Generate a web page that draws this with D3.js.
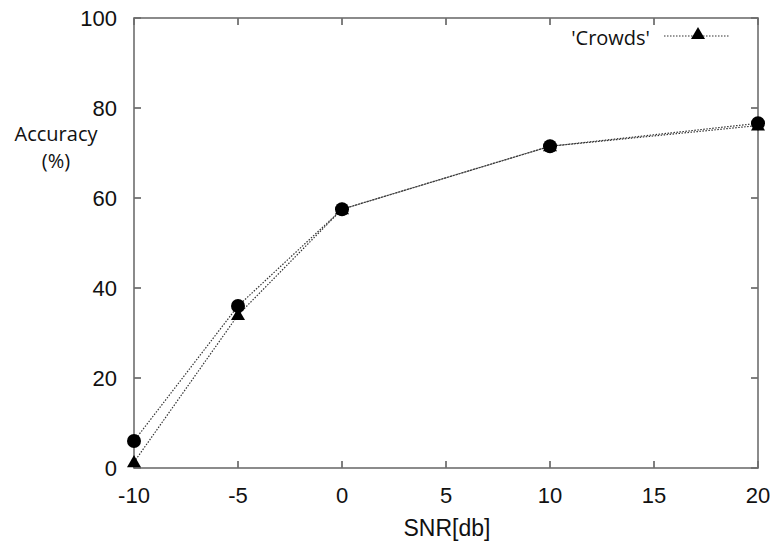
<!DOCTYPE html>
<html>
<head>
<meta charset="utf-8">
<script src="https://cdn.jsdelivr.net/npm/d3@7"></script>
<style>
  body { margin: 0; background: #fff; }
  text { fill: #111; }
</style>
</head>
<body>
<svg id="chart" width="777" height="544"></svg>
<script>
(function() {

    var snr = [-10, -5, 0, 10, 20],
        circleAcc = [6, 36, 57.5, 71.5, 76.6],
        crowdsAcc = [1.3, 34, 57.5, 71.5, 76.1],
        xTicks = [-10, -5, 0, 5, 10, 15, 20],
        yTicks = [0, 20, 40, 60, 80, 100];

    var left = 134, right = 758, top = 18, bottom = 468,
        tickLen = 7;

    var svg = d3.select('#chart');

    var x = d3.scaleLinear().domain([-10, 20]).range([left, right]);
    var y = d3.scaleLinear().domain([0, 100]).range([bottom, top]);

    // ticks on all four sides, pointing inward
    var g = svg.append('g');
    xTicks.forEach(function(t) {
        g.append('line').attr('x1', x(t)).attr('x2', x(t))
            .attr('y1', bottom).attr('y2', bottom - tickLen)
            .attr('stroke', '#000').attr('stroke-width', 1);
        g.append('line').attr('x1', x(t)).attr('x2', x(t))
            .attr('y1', top).attr('y2', top + tickLen)
            .attr('stroke', '#000').attr('stroke-width', 1);
    });
    yTicks.forEach(function(t) {
        g.append('line').attr('x1', left).attr('x2', left + tickLen)
            .attr('y1', y(t)).attr('y2', y(t))
            .attr('stroke', '#000').attr('stroke-width', 1);
        g.append('line').attr('x1', right).attr('x2', right - tickLen)
            .attr('y1', y(t)).attr('y2', y(t))
            .attr('stroke', '#000').attr('stroke-width', 1);
    });

    // border
    svg.append('rect')
        .attr('x', left).attr('y', top)
        .attr('width', right - left).attr('height', bottom - top)
        .attr('fill', 'none').attr('stroke', '#6e6e6e').attr('stroke-width', 1.6);

    // tick labels
    var xAxis = svg.append('g').attr('font-family', 'Liberation Sans, Arial, sans-serif')
        .attr('font-size', 22);
    xAxis.selectAll('text').data(xTicks).enter().append('text')
        .attr('x', function(d) { return x(d); })
        .attr('y', bottom + 35)
        .attr('text-anchor', 'middle')
        .text(function(d) { return d; });

    var yAxis = svg.append('g').attr('font-family', 'Liberation Sans, Arial, sans-serif')
        .attr('font-size', 22);
    yAxis.selectAll('text').data(yTicks).enter().append('text')
        .attr('x', left - 17)
        .attr('y', function(d) { return y(d) + 8; })
        .attr('text-anchor', 'end')
        .text(function(d) { return d; });

    // axis titles
    svg.append('text')
        .attr('x', 447).attr('y', 536)
        .attr('text-anchor', 'middle')
        .attr('font-family', 'Liberation Sans, Arial, sans-serif')
        .attr('font-size', 23)
        .text('SNR[db]');

    svg.append('text')
        .attr('x', 56).attr('y', 141)
        .attr('text-anchor', 'middle')
        .attr('font-family', 'Open Sans, sans-serif')
        .attr('font-size', 20)
        .text('Accuracy');
    svg.append('text')
        .attr('x', 56).attr('y', 168)
        .attr('text-anchor', 'middle')
        .attr('font-family', 'Open Sans, sans-serif')
        .attr('font-size', 20)
        .text('(%)');

    // lines
    var line = d3.line()
        .x(function(d) { return x(d[0]); })
        .y(function(d) { return y(d[1]); });

    var circleData = d3.zip(snr, circleAcc),
        crowdsData = d3.zip(snr, crowdsAcc);

    [circleData, crowdsData].forEach(function(data) {
        svg.append('path')
            .datum(data)
            .attr('d', line)
            .attr('fill', 'none')
            .attr('stroke', '#333')
            .attr('stroke-width', 1.2)
            .attr('stroke-dasharray', '1.5,1.5');
    });

    var tri = d3.symbol().type(d3.symbolTriangle).size(85);

    svg.selectAll('path.tri').data(crowdsData).enter().append('path')
        .attr('class', 'tri')
        .attr('d', tri)
        .attr('transform', function(d) {
            return 'translate(' + x(d[0]) + ',' + (y(d[1]) + 1) + ')';
        })
        .attr('fill', '#000');

    svg.selectAll('circle.pt').data(circleData).enter().append('circle')
        .attr('class', 'pt')
        .attr('cx', function(d) { return x(d[0]); })
        .attr('cy', function(d) { return y(d[1]); })
        .attr('r', 7)
        .attr('fill', '#000');

    // legend
    svg.append('text')
        .attr('x', 650).attr('y', 45)
        .attr('text-anchor', 'end')
        .attr('font-family', 'Open Sans, sans-serif')
        .attr('font-size', 20)
        .text("'Crowds'");
    svg.append('line')
        .attr('x1', 664).attr('x2', 729)
        .attr('y1', 36).attr('y2', 36)
        .attr('stroke', '#333').attr('stroke-width', 1.2)
        .attr('stroke-dasharray', '1.5,1.5');
    svg.append('path')
        .attr('d', tri)
        .attr('transform', 'translate(698,35)')
        .attr('fill', '#000');

})();
</script>
</body>
</html>
